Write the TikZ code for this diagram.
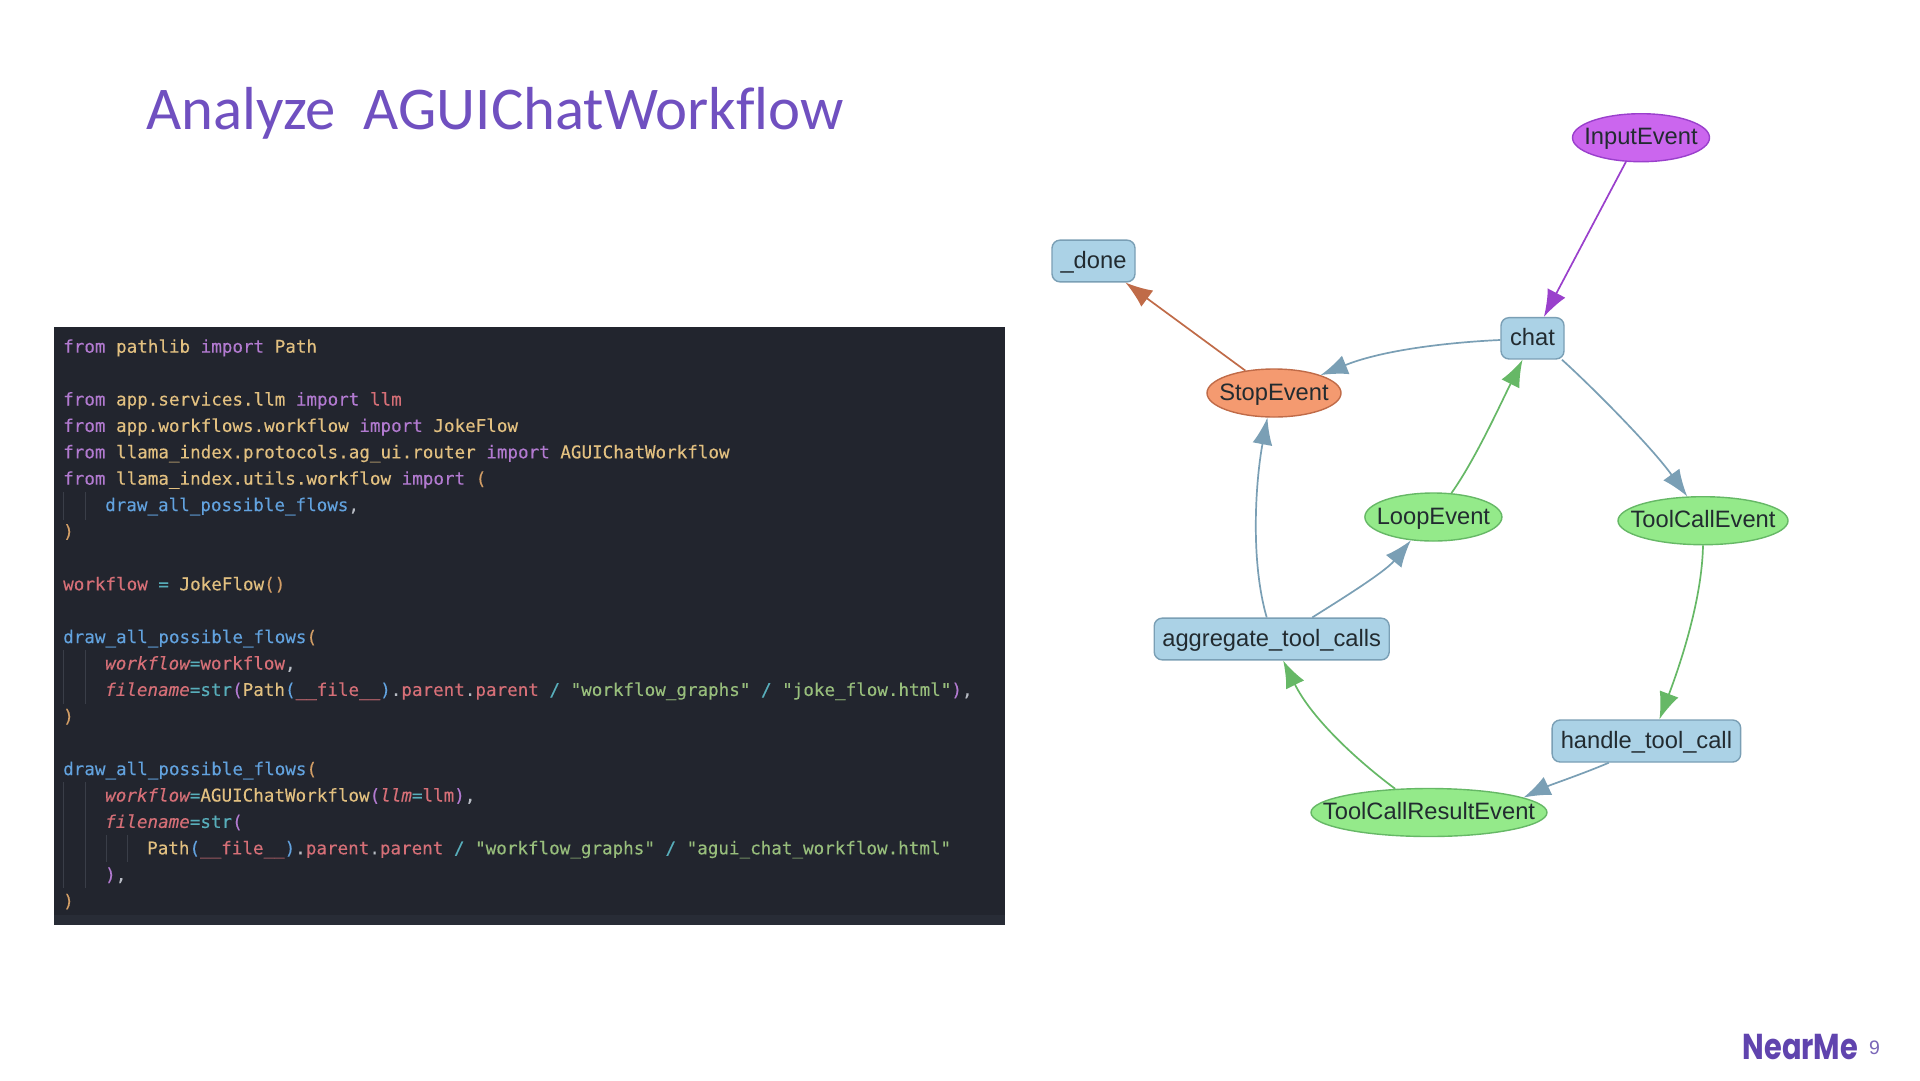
\documentclass[tikz,border=0pt]{standalone}
\usepackage{fontspec}
\setmainfont{Liberation Sans}
\setmonofont[FakeBold=0.25]{DejaVu Sans Mono}
\newfontfamily\titlefont[Ligatures=NoCommon]{Carlito}
\newfontfamily\logofont{Poppins}
\usetikzlibrary{arrows.meta,shapes.geometric}
\definecolor{panelbg}{HTML}{22252E}
\definecolor{panelstrip}{HTML}{282C36}
\definecolor{guidecol}{HTML}{3A3E48}
\definecolor{ckw}{HTML}{B27AD0}
\definecolor{cyel}{HTML}{E2C080}
\definecolor{cred}{HTML}{D66F77}
\definecolor{cblu}{HTML}{62A2DE}
\definecolor{cgrn}{HTML}{98BE7C}
\definecolor{ccya}{HTML}{58AEBB}
\definecolor{corg}{HTML}{D29E66}
\definecolor{cgry}{HTML}{B8BCC4}
\definecolor{titlecol}{HTML}{7050C0}
\definecolor{logocol}{HTML}{6044AE}
\definecolor{pagenum}{HTML}{7A66B8}
\definecolor{boxfill}{HTML}{ABD2E6}
\definecolor{edgeblue}{HTML}{7A9FB5}
\definecolor{greenfill}{HTML}{94EA8A}
\definecolor{edgegreen}{HTML}{66B866}
\definecolor{purplefill}{HTML}{CB66EE}
\definecolor{edgepurple}{HTML}{9A40CC}
\definecolor{orangefill}{HTML}{F49A70}
\definecolor{edgeorange}{HTML}{C06B48}
\definecolor{labelcol}{HTML}{222B30}
\newcommand{\kK}[1]{\textcolor{ckw}{#1}}
\newcommand{\kY}[1]{\textcolor{cyel}{#1}}
\newcommand{\kR}[1]{\textcolor{cred}{#1}}
\newcommand{\kI}[1]{\textcolor{cred}{\itshape #1}}
\newcommand{\kB}[1]{\textcolor{cblu}{#1}}
\newcommand{\kG}[1]{\textcolor{cgrn}{#1}}
\newcommand{\kC}[1]{\textcolor{ccya}{#1}}
\newcommand{\kO}[1]{\textcolor{corg}{#1}}
\newcommand{\kW}[1]{\textcolor{cgry}{#1}}
\newcommand{\gl}[1]{\raisebox{-7pt}[0pt][0pt]{\makebox[0pt]{#1}}}
\tikzset{
  x=1pt,y=-1pt,
  codeline/.style={anchor=base west,inner sep=0pt,yshift=0.8pt,font=\ttfamily\fontsize{17.57}{20}\selectfont},
  guide/.style={guidecol,line width=1pt},
  gbase/.style={inner sep=0pt,line width=1.4pt,text=labelcol,font=\fontsize{23.7}{28}\selectfont},
  boxn/.style={gbase,rectangle,rounded corners=8pt,draw=edgeblue,fill=boxfill},
  elln/.style={gbase,ellipse,minimum height=48pt},
  greenn/.style={elln,draw=edgegreen,fill=greenfill},
  conn/.style={line width=1.7pt,-{Latex[length=27pt,width=20pt]}},
  bluec/.style={conn,edgeblue},
  greenc/.style={conn,edgegreen},
  purplec/.style={conn,edgepurple},
  orangec/.style={conn,edgeorange},
}
\begin{document}
\begin{tikzpicture}
\useasboundingbox (0,0) rectangle (1920,1080);
\fill[white] (0,0) rectangle (1920,1080);
% title
\node[anchor=base west,inner sep=0pt,text=titlecol,font=\titlefont\fontsize{60.7}{70}\selectfont] (title) at (146,129.5) {Analyze\hspace{14pt} AGUIChatWorkflow};
% code panel
\fill[panelbg] (54,327) rectangle (1005,925);
\fill[panelstrip] (54,915) rectangle (1005,925);
\draw[guide] (63,492) -- (63,520);
\draw[guide] (85,492) -- (85,520);
\draw[guide] (63,650) -- (63,704);
\draw[guide] (85,650) -- (85,704);
\draw[guide] (63,782) -- (63,888);
\draw[guide] (85,782) -- (85,888);
\draw[guide] (106,835) -- (106,862);
\draw[guide] (127,835) -- (127,862);
\node[codeline] (l0) at (63,353.5) {\kK{from} \kY{pathlib} \kK{import} \kY{Path}};
\node[codeline] (l2) at (63,406.3) {\kK{from} \kY{app.services.llm} \kK{import} \kR{llm}};
\node[codeline] (l3) at (63,432.7) {\kK{from} \kY{app.workflows.workflow} \kK{import} \kY{JokeFlow}};
\node[codeline] (l4) at (63,459.1) {\kK{from} \kY{llama\_index.protocols.ag\_ui.router} \kK{import} \kY{AGUIChatWorkflow}};
\node[codeline] (l5) at (63,485.5) {\kK{from} \kY{llama\_index.utils.workflow} \kK{import} \kO{(}};
\node[codeline] (l6) at (105,511.9) {\kB{draw\_all\_possible\_flows}\kW{,}};
\node[codeline] (l7) at (63,538.3) {\kO{)}};
\node[codeline] (l9) at (63,591.1) {\kR{workflow} \kC{=} \kY{JokeFlow}\kO{()}};
\node[codeline] (l11) at (63,643.9) {\kB{draw\_all\_possible\_flows}\kO{(}};
\node[codeline] (l12) at (105,670.3) {\kI{workflow}\kC{=}\kR{workflow}\kW{,}};
\node[codeline] (l13) at (105,696.7) {\kI{filename}\kC{=str}\kK{(}\kY{Path}\kB{(}\kR{\_\_file\_\_}\kB{)}\kW{.}\kR{parent}\kW{.}\kR{parent} \kC{/} \kG{"workflow\_graphs"} \kC{/} \kG{"joke\_flow.html"}\kK{)}\kW{,}};
\node[codeline] (l14) at (63,723.1) {\kO{)}};
\node[codeline] (l16) at (63,775.9) {\kB{draw\_all\_possible\_flows}\kO{(}};
\node[codeline] (l17) at (105,802.3) {\kI{workflow}\kC{=}\kY{AGUIChatWorkflow}\kK{(}\kI{llm}\kC{=}\kR{llm}\kK{)}\kW{,}};
\node[codeline] (l18) at (105,828.7) {\kI{filename}\kC{=str}\kK{(}};
\node[codeline] (l19) at (147,855.1) {\kY{Path}\kB{(}\kR{\_\_file\_\_}\kB{)}\kW{.}\kR{parent}\kW{.}\kR{parent} \kC{/} \kG{"workflow\_graphs"} \kC{/} \kG{"agui\_chat\_workflow.html"}};
\node[codeline] (l20) at (105,881.5) {\kK{)}\kW{,}};
\node[codeline] (l21) at (63,907.9) {\kO{)}};
% graph nodes
\node[elln,draw=edgepurple,fill=purplefill,minimum width=137pt] (input) at (1641,137.7) {\gl{InputEvent}};
\node[boxn,minimum width=83pt,minimum height=41.7pt] (done) at (1093.5,261) {\gl{\_done}};
\node[boxn,minimum width=63pt,minimum height=41.3pt] (chat) at (1532.5,338.3) {\gl{chat}};
\node[elln,draw=edgeorange,fill=orangefill,minimum width=134pt] (stop) at (1274,393) {\gl{StopEvent}};
\node[greenn,minimum width=137pt] (loop) at (1433.4,517) {\gl{LoopEvent}};
\node[greenn,minimum width=170pt] (toolcall) at (1703,520.7) {\gl{ToolCallEvent}};
\node[boxn,minimum width=235pt,minimum height=41.7pt] (aggregate) at (1271.7,639) {\gl{aggregate\_tool\_calls}};
\node[boxn,minimum width=188.5pt,minimum height=42pt] (handle) at (1646.4,741) {\gl{handle\_tool\_call}};
\node[greenn,minimum width=236pt] (result) at (1429,812.5) {\gl{ToolCallResultEvent}};
% connectors
\draw[purplec] (input.238.6) -- (chat.62.4);
\draw[orangec] (stop.142) -- (done.-34);
\draw[bluec] (chat.183) .. controls (1455,342) and (1385,349) .. (stop.21);
\draw[bluec] (chat.-36.5) .. controls (1590,385) and (1650,445) .. (toolcall.123);
\draw[greenc] (loop.53.4) .. controls (1475,460) and (1500,405) .. (chat.245);
\draw[bluec] (aggregate.103) .. controls (1250,560) and (1255.7,480) .. (stop.255);
\draw[bluec] (aggregate.28) .. controls (1340,600) and (1385,572) .. (loop.226.6);
\draw[greenc] (toolcall.-90) .. controls (1702,600) and (1680,665) .. (handle.59);
\draw[bluec] (handle.210) .. controls (1585,773) and (1550,785) .. (result.9.5);
\draw[greenc] (result.145.6) .. controls (1350,755) and (1310,715) .. (aggregate.298);
% footer
\node[anchor=base west,inner sep=0pt,text=logocol,font=\logofont\bfseries\fontsize{36}{40}\selectfont] (logo) at (1742.5,1059) {\scalebox{0.8}[1]{NearMe}};
\node[anchor=base west,inner sep=0pt,text=pagenum,font=\fontsize{19.5}{22}\selectfont] (page) at (1869,1054) {9};
\end{tikzpicture}
\end{document}
